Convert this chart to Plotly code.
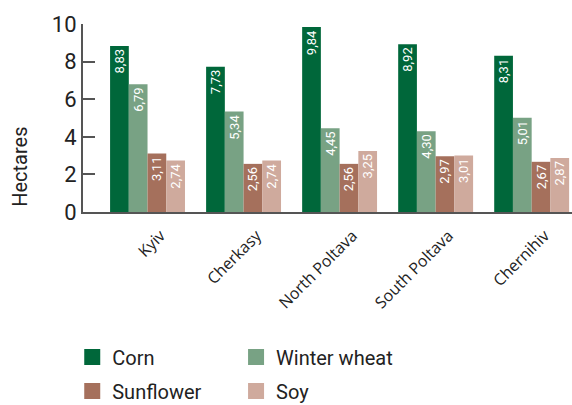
import plotly.graph_objects as go

regions = ["Kyiv", "Cherkasy", "North Poltava", "South Poltava", "Chernihiv"]
series_names = ["Corn", "Winter wheat", "Sunflower", "Soy"]
corn = [8.83, 7.73, 9.84, 8.92, 8.31]
winter_wheat = [6.79, 5.34, 4.45, 4.30, 5.01]
sunflower = [3.11, 2.56, 2.56, 2.97, 2.67]
soy = [2.74, 2.74, 3.25, 3.01, 2.87]
y_ticks = [0, 2, 4, 6, 8, 10]

colors = ["#00673a", "#78a284", "#a5705c", "#cfaa9d"]
values = [corn, winter_wheat, sunflower, soy]
legend_ids = ["legend", "legend2", "legend", "legend2"]

fig = go.Figure()
for name, vals, col in zip(series_names, values, colors):
    fig.add_trace(go.Bar(
        x=regions, y=vals, name=name, marker=dict(color=col, line=dict(width=0)),
        text=[f"{v:.2f}".replace(".", ",") for v in vals],
        textposition="inside", insidetextanchor="end", textangle=-90,
        textfont=dict(family="Roboto", size=13, color="white"),
        showlegend=False,
    ))
for name, col, lg in zip(series_names, colors, legend_ids):
    fig.add_trace(go.Scatter(
        x=[None], y=[None], mode="markers", name=name, legend=lg, legendgroup=name,
        marker=dict(symbol="square", size=16, color=col),
    ))

legend_font = dict(family="Roboto", size=20, color="#222222")
fig.update_layout(
    width=572, height=405,
    margin=dict(l=83, r=0, t=24, b=193, autoexpand=False),
    plot_bgcolor="white", paper_bgcolor="white",
    barmode="group", bargap=0.22, bargroupgap=0,
    uniformtext=dict(minsize=13, mode="show"),
    font=dict(family="Roboto", color="#222222"),
    xaxis=dict(
        range=[-0.672, 4.42], tickangle=-45, showline=True, linecolor="#555555",
        linewidth=2, ticks="", showgrid=False, ticklabelshift=13, ticklabelstandoff=6,
        tickfont=dict(family="Open Sans", size=16, color="#222222"), automargin=False,
    ),
    yaxis=dict(
        range=[0, 10], tickvals=y_ticks, showline=True, linecolor="#555555",
        linewidth=2, ticks="inside", ticklen=12, tickwidth=2, tickcolor="#555555",
        showgrid=False, zeroline=False, ticklabelstandoff=0, automargin=False,
        tickfont=dict(family="Roboto", size=22, color="#222222"),
    ),
    annotations=[dict(
        text="Hectares", xref="paper", yref="paper", x=-0.129, y=0.24,
        xanchor="center", yanchor="middle", textangle=-90, showarrow=False,
        font=dict(family="Roboto", size=20, color="#222222"),
    )],
    legend=dict(
        orientation="v", x=-0.022, xanchor="left", y=-0.668, yanchor="top",
        font=legend_font, bgcolor="rgba(0,0,0,0)", tracegroupgap=5,
    ),
    legend2=dict(
        orientation="v", x=0.313, xanchor="left", y=-0.668, yanchor="top",
        font=legend_font, bgcolor="rgba(0,0,0,0)", tracegroupgap=5,
    ),
)

fig.write_html("out.html")
